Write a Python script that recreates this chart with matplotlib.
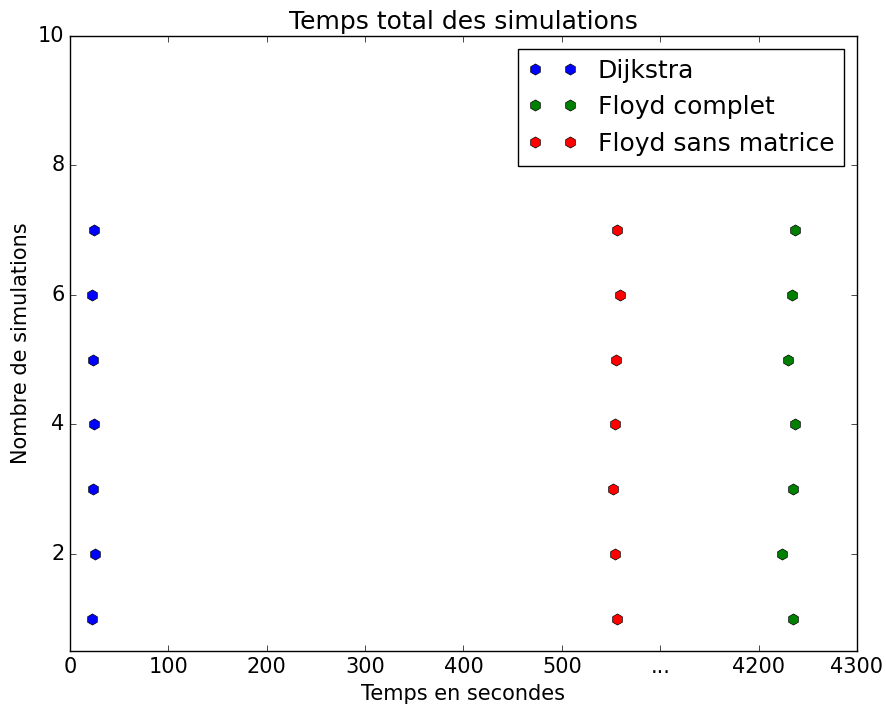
import matplotlib
matplotlib.use("Agg")
import matplotlib.pyplot as plt

plt.style.use("classic")
plt.rcParams["font.size"] = 15

simulations = [1, 2, 3, 4, 5, 6, 7]
dijkstra = [22.7, 25.1, 23.1, 24.1, 23.1, 22.7, 24.1]
floyd_complet = [4234.5, 4224.1, 4234.5, 4237.2, 4229.5, 4233.8, 4236.9]
floyd_sans_matrice = [555.7, 554.4, 552.4, 554.0, 555.0, 558.8, 555.7]

# l'axe x est coupé : 600 -> "...", 4200 est affiché à 700
offset = 3500
xticks = [0, 100, 200, 300, 400, 500, 600, 700, 800]
xticklabels = ["0", "100", "200", "300", "400", "500", "...", "4200", "4300"]

fig = plt.figure(figsize=(8.87, 7.07), dpi=100)
ax = fig.add_axes([70 / 887, 1 - 651 / 707, (857 - 70) / 887, (651 - 36) / 707])

ax.plot(dijkstra, simulations, "h", color="blue", markersize=8, label="Dijkstra")
ax.plot([v - offset for v in floyd_complet], simulations, "h", color="green",
        markersize=8, label="Floyd complet")
ax.plot(floyd_sans_matrice, simulations, "h", color="red", markersize=8,
        label="Floyd sans matrice")

ax.set_xlim(0, 800)
ax.set_ylim(0.5, 10)
ax.set_xticks(xticks)
ax.set_xticklabels(xticklabels)
ax.set_yticks([2, 4, 6, 8, 10])

ax.set_title("Temps total des simulations")
ax.set_xlabel("Temps en secondes")
ax.set_ylabel("Nombre de simulations")
ax.legend(loc="upper right", numpoints=2)

plt.savefig("out.png", dpi=100)
